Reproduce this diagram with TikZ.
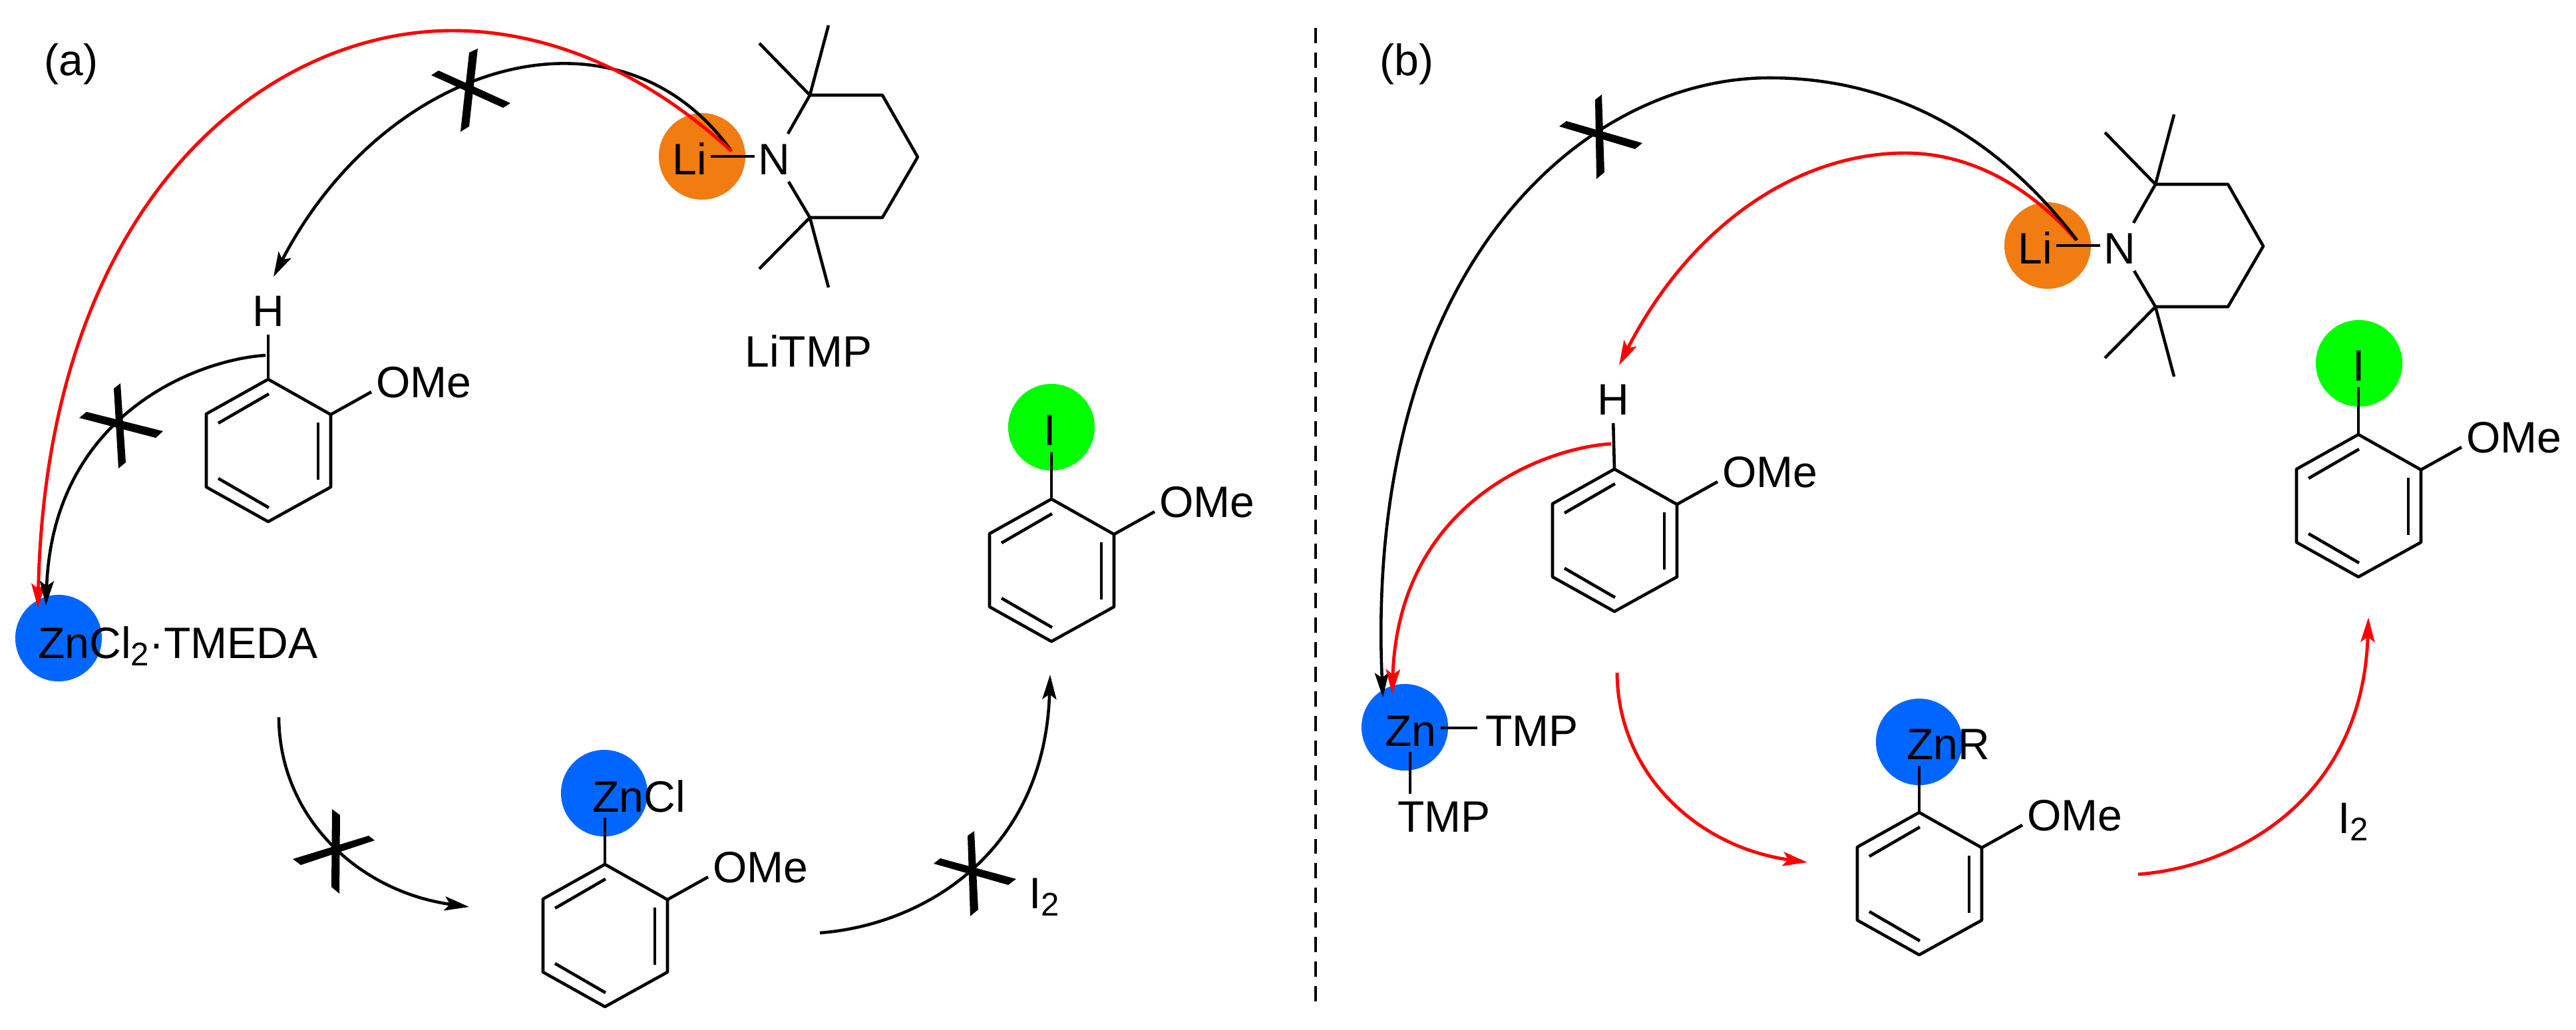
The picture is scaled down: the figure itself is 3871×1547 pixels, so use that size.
\documentclass[tikz,border=0pt]{standalone}
\usepackage{fontspec}
\setmainfont{Liberation Sans}
\usetikzlibrary{arrows.meta}
\definecolor{liorange}{HTML}{F07C12}
\definecolor{znblue}{HTML}{0066FF}
\definecolor{igreen}{HTML}{00FF00}
\newcommand{\subtwo}{\raisebox{-3.4pt}{\fontsize{14}{14}\selectfont 2}}
\tikzset{
  every picture/.style={
    line width=1.3pt,
    line join=round,
    >={Stealth[length=10.5pt, width=6pt, inset=2.2pt]}
  },
  lab/.style={
    font=\fontsize{18.8}{22}\selectfont,
    inner sep=0pt, anchor=base west
  },
  atom/.style={lab, anchor=base},
  disc/.style={
    circle, fill=#1, minimum size=1.3cm,
    inner sep=0pt
  },
  curve/.style={line width=1.3pt, ->},
  redcurve/.style={curve, red, line width=1.4pt},
  anisole/.pic={
    \coordinate (-top) at (0,0);
    \draw (0,0) -- (94,53) -- (94,162) -- (0,214) -- (-93,162) -- (-93,52) -- cycle;
    \draw (-75,66) -- (1,22);
    \draw (75,65) -- (75,151);
    \draw (-75,149) -- (1,193);
    \draw (94,53) -- (155,19);
    \node [lab] (-ome) at (160,27) {OMe};
  },
  litmp/.pic={
    \node [disc=liorange] (-disc) at (-13,0) {};
    \node [lab] (-li) at (-60,27) {Li};
    \node [lab] (-n) at (69,27) {N};
    \draw (0,0) -- (66,0);
    \draw (116,-34) -- (149,-92) -- (258,-92) -- (311,1) -- (258,92) -- (149,92) -- (117,38);
    \draw (73,-170) -- (149,-92) -- (177,-197);
    \draw (73,169) -- (149,92) -- (177,197);
  }
}
\begin{document}
\begin{tikzpicture}[x=0.01cm,y=-0.01cm]
  \useasboundingbox (0,0) rectangle (3871,1547);
  % panel a
  \node [lab] (laba) at (64,113) {(a)};
  \pic (tmpa) at (1068,235) {litmp};
  \node [lab] (litmpa) at (1117,551) {LiTMP};
  \pic (ra) at (403,570) {anisole};
  \node [atom] (ha) at (403,490) {H};
  \draw [shorten <=3pt] (ha.south) -- (ra-top);
  \node [disc=znblue] (zna) at (88,959) {};
  \node [lab] (zncl2a) at (55,989) {ZnCl\subtwo·TMEDA};
  \pic (rb) at (909,1299) {anisole};
  \node [disc=znblue] (znb) at (908,1192) {};
  \node [lab] (znclb) at (888,1220) {ZnCl};
  \coordinate (znbondb) at (909,1229);
  \draw (znbondb) -- (rb-top);
  \pic (rc) at (1580,750) {anisole};
  \node [disc=igreen] (ic) at (1580,642) {};
  \node [atom] (ilabc) at (1578,669) {I};
  \coordinate (ibondc) at (1580,680);
  \draw (ibondc) -- (rc-top);
  \node [lab] (i2a) at (1544,1365) {I\subtwo};
  \coordinate (lia) at (1099,227);
  \coordinate (hhead) at (411,416);
  \coordinate (hbonda) at (399,534);
  \coordinate (znheadr) at (57,914);
  \coordinate (znheadk) at (69,910);
  \coordinate (astart) at (419,1078);
  \coordinate (ahead) at (705,1363);
  \coordinate (bstart) at (1232,1402);
  \coordinate (bhead) at (1578,1014);
  \draw [curve] (lia) .. controls (930,-10) and (580,90) .. (hhead);
  \draw [redcurve,-] (lia) .. controls (950,90) and (800,46) .. (680,46);
  \draw [redcurve] (680,46) .. controls (400,46) and (70,300) .. (znheadr);
  \draw [curve] (hbonda) .. controls (300,540) and (80,620) .. (znheadk);
  \draw [curve] (astart) .. controls (420,1230) and (540,1340) .. (ahead);
  \draw [curve] (bstart) .. controls (1390,1390) and (1570,1280) .. (bhead);
  \fill (705,79) -- (718,73) -- (705,190) -- (692,198) -- cycle;
  \fill (648,113) -- (659,106) -- (767,155) -- (756,162) -- cycle;
  \fill (171,584) -- (181,576) -- (189,695) -- (178,704) -- cycle;
  \fill (119,628) -- (130,619) -- (245,648) -- (234,658) -- cycle;
  \fill (499,1216) -- (511,1225) -- (510,1343) -- (498,1333) -- cycle;
  \fill (440,1291) -- (452,1300) -- (563,1263) -- (554,1256) -- cycle;
  \fill (1454,1256) -- (1464,1249) -- (1470,1367) -- (1458,1377) -- cycle;
  \fill (1403,1298) -- (1413,1290) -- (1527,1321) -- (1515,1330) -- cycle;
  % divider
  \coordinate (divtop) at (1977,42);
  \coordinate (divbot) at (1977,1516);
  \draw [dash pattern=on 6.5pt off 4pt] (divtop) -- (divbot);
  % panel b
  \node [lab] (labb) at (2071,113) {(b)};
  \pic (tmpb) at (3090,369) {litmp};
  \pic (rd) at (2426,705) {anisole};
  \node [atom] (hb) at (2424,623) {H};
  \draw [shorten <=3pt] (hb.south) -- (rd-top);
  \node [disc=znblue] (znd) at (2111,1093) {};
  \node [lab] (znlabd) at (2079,1121) {Zn};
  \node [lab] (tmpr) at (2230,1121) {TMP};
  \node [lab] (tmps) at (2098,1250) {TMP};
  \coordinate (zdr) at (2165,1094);
  \coordinate (zds) at (2119,1130);
  \coordinate (tmprend) at (2220,1094);
  \coordinate (tmpsend) at (2119,1193);
  \draw (zdr) -- (tmprend);
  \draw (zds) -- (tmpsend);
  \pic (re) at (2884,1221) {anisole};
  \node [disc=znblue] (zne) at (2884,1115) {};
  \node [lab] (znre) at (2863,1141) {ZnR};
  \coordinate (znbonde) at (2884,1151);
  \draw (znbonde) -- (re-top);
  \pic (rf) at (3544,653) {anisole};
  \node [disc=igreen] (if) at (3545,546) {};
  \node [atom] (ilabf) at (3545,572) {I};
  \coordinate (ibondf) at (3544,582);
  \draw (ibondf) -- (rf-top);
  \node [lab] (i2b) at (3511,1252) {I\subtwo};
  \coordinate (lib) at (3121,361);
  \coordinate (librr) at (3119,360);
  \coordinate (znheadb) at (2078,1048);
  \coordinate (hheadb) at (2433,549);
  \coordinate (hbondb) at (2421,667);
  \coordinate (znheadbr) at (2092,1043);
  \coordinate (cstart) at (2430,1011);
  \coordinate (chead) at (2716,1296);
  \coordinate (dstart) at (3213,1314);
  \coordinate (dhead) at (3559,928);
  \draw [redcurve,-] (librr) .. controls (3050,280) and (2960,230) .. (2863,230);
  \draw [redcurve] (2863,230) .. controls (2700,230) and (2540,340) .. (hheadb);
  \draw [line width=1.3pt] (lib) .. controls (2990,190) and (2830,117) .. (2659,117);
  \draw [curve] (2659,117) .. controls (2380,117) and (2050,400) .. (znheadb);
  \draw [redcurve] (hbondb) .. controls (2322,673) and (2102,753) .. (znheadbr);
  \draw [redcurve] (cstart) .. controls (2431,1163) and (2551,1273) .. (chead);
  \draw [redcurve] (dstart) .. controls (3371,1302) and (3551,1192) .. (dhead);
  \fill (2397,150) -- (2407,142) -- (2411,259) -- (2399,269) -- cycle;
  \fill (2343,190) -- (2354,182) -- (2468,215) -- (2457,224) -- cycle;
\end{tikzpicture}
\end{document}
